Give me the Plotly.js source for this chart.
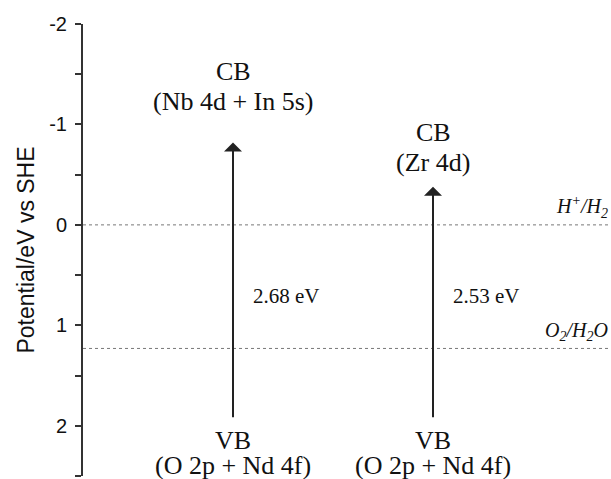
<!DOCTYPE html>
<html>
<head>
<meta charset="utf-8">
<script src="https://cdn.plot.ly/plotly-3.0.1.min.js"></script>
<style>html,body{margin:0;padding:0;background:#fff;}#chart{width:611px;height:479px;}</style>
</head>
<body>
<div id="chart"></div>
<script>
// ---- data ----
const positions = [1, 2];
const cbNames = ["CB", "CB"];
const cbOrbitals = ["(Nb 4d + In 5s)", "(Zr 4d)"];
const vbNames = ["VB", "VB"];
const vbOrbitals = ["(O 2p + Nd 4f)", "(O 2p + Nd 4f)"];
const cbEdges = [-0.82, -0.38];
const vbEdges = [1.93, 1.93];
const gapLabels = ["2.68 eV", "2.53 eV"];
const redoxLevels = [0, 1.23];
const redoxLabels = ["<i>H<sup>+</sup>/H<sub>2</sub></i>", "<i>O<sub>2</sub>/H<sub>2</sub>O</i>"];
const tickVals = [-2, -1, 0, 1, 2];
const tickLabels = ["-2", "-1", "0", "1", "2"];

// ---- layout ----
const serif = "Liberation Serif, Times New Roman, serif";
const sans = "Liberation Sans, Arial, sans-serif";
const cbShift = [30, 13];
const gapLabelY = 0.71;
const bandFont = {family: serif, size: 26, color: '#111'};

const annotations = [];
const shapes = [];
positions.forEach((x, i) => {
  annotations.push({
    x: x, y: cbEdges[i], xref: 'x', yref: 'y',
    ax: x, ay: vbEdges[i], axref: 'x', ayref: 'y',
    showarrow: true, arrowhead: 1, arrowsize: 1.5, arrowwidth: 2,
    arrowcolor: '#222', standoff: 0, startstandoff: 0, text: ''
  });
  annotations.push({
    x: x, y: cbEdges[i], xref: 'x', yref: 'y', yanchor: 'middle', xanchor: 'center',
    yshift: cbShift[i] + 11, showarrow: false, text: cbOrbitals[i], font: bandFont
  });
  annotations.push({
    x: x, y: cbEdges[i], xref: 'x', yref: 'y', yanchor: 'middle', xanchor: 'center',
    yshift: cbShift[i] + 41, showarrow: false, text: cbNames[i], font: bandFont
  });
  annotations.push({
    x: x, y: vbEdges[i], xref: 'x', yref: 'y', yanchor: 'middle', xanchor: 'center',
    yshift: -22, showarrow: false, text: vbNames[i], font: bandFont
  });
  annotations.push({
    x: x, y: vbEdges[i], xref: 'x', yref: 'y', yanchor: 'middle', xanchor: 'center',
    yshift: -47, showarrow: false, text: vbOrbitals[i], font: bandFont
  });
  annotations.push({
    x: x, y: gapLabelY, xref: 'x', yref: 'y', xanchor: 'left', yanchor: 'middle',
    xshift: 18, showarrow: false, text: gapLabels[i],
    font: {family: serif, size: 21, color: '#111'}
  });
});
redoxLevels.forEach((v, i) => {
  shapes.push({
    type: 'line', xref: 'paper', yref: 'y', x0: 0, x1: 1, y0: v, y1: v,
    line: {color: '#777', width: 1, dash: 'dot'}
  });
  annotations.push({
    x: 1, y: v, xref: 'paper', yref: 'y', xanchor: 'right', yanchor: 'bottom',
    yshift: 2, xshift: -1, showarrow: false, text: redoxLabels[i],
    font: {family: serif, size: 20, color: '#111'}
  });
});

const layout = {
  width: 611, height: 479,
  margin: {l: 83, r: 0, t: 24, b: 3},
  paper_bgcolor: '#fff', plot_bgcolor: '#fff',
  showlegend: false,
  xaxis: {visible: false, range: [0.25, 2.89], fixedrange: true},
  yaxis: {
    range: [2.5, -2], showgrid: false, zeroline: false,
    showline: true, linecolor: '#333', linewidth: 2,
    ticks: 'outside', ticklen: 6, tickwidth: 2, tickcolor: '#333',
    tickmode: 'array', tickvals: tickVals, ticktext: tickLabels,
    ticklabelstandoff: 4,
    minor: {ticks: 'outside', ticklen: 6, tickwidth: 2, tickcolor: '#333', tickmode: 'linear', tick0: 0, dtick: 0.5},
    tickfont: {family: sans, size: 20, color: '#111'},
    title: {text: 'Potential/eV vs SHE', font: {family: sans, size: 23, color: '#111'}, standoff: 8}
  },
  shapes: shapes,
  annotations: annotations
};

Plotly.newPlot('chart', [{x: positions, y: cbEdges, type: 'scatter', mode: 'markers', marker: {opacity: 0}, hoverinfo: 'skip'}], layout, {staticPlot: true});
</script>
</body>
</html>
